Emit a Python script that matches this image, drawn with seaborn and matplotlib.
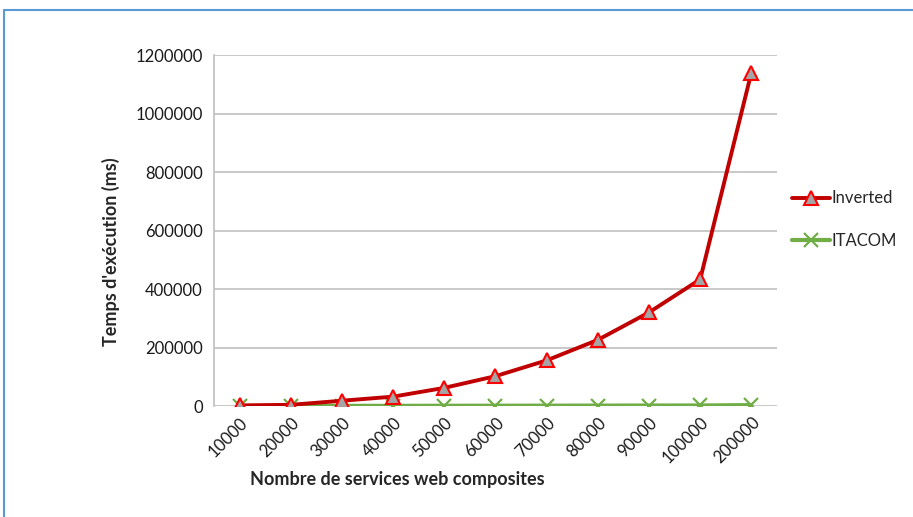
import numpy as np
import pandas as pd
import matplotlib
matplotlib.use('Agg')
import matplotlib.pyplot as plt
import seaborn as sns
from matplotlib.lines import Line2D

categories = ['10000', '20000', '30000', '40000', '50000', '60000',
              '70000', '80000', '90000', '100000', '200000']
inverted = [2000, 4000, 18000, 32000, 62000, 102000, 156000, 226000, 320000, 433000, 1140000]
itacom = [150, 300, 450, 600, 800, 1000, 1200, 1400, 1600, 1800, 3000]
y_ticks = [0, 200000, 400000, 600000, 800000, 1000000, 1200000]

df = pd.DataFrame({'n': categories * 2,
                   'val': inverted + itacom,
                   'serie': ['Inverted'] * 11 + ['ITACOM'] * 11})

sns.set_style('white')
plt.rcParams['font.family'] = ['Lato', 'DejaVu Sans']

fig = plt.figure(figsize=(9.13, 5.17), dpi=100)
ax = fig.add_axes([0.2344, 0.2147, 0.6166, 0.6789])

red = '#C00000'
green = '#70AD47'
sns.lineplot(data=df[df.serie == 'Inverted'], x='n', y='val', ax=ax, color=red, lw=2.8,
             marker='^', markersize=9.5, markerfacecolor='#A5A5A5', markeredgecolor='#FF0000',
             markeredgewidth=1.5, sort=False, zorder=3)
sns.lineplot(data=df[df.serie == 'ITACOM'], x='n', y='val', ax=ax, color=green, lw=3,
             marker='x', markersize=9.5, markeredgecolor=green, markeredgewidth=1.6,
             sort=False, zorder=2)

ax.set_xlim(-0.5, 10.5)
ax.set_ylim(0, 1200000)
ax.set_yticks(y_ticks)
ax.set_yticklabels([str(v) for v in y_ticks], fontsize=12, color='#1a1a1a')
ax.set_xticks(range(len(categories)))
ax.set_xticklabels(categories, rotation=45, ha='right', rotation_mode='anchor',
                   fontsize=12, color='#1a1a1a')
ax.tick_params(axis='x', length=0, pad=6)
ax.tick_params(axis='y', length=0, pad=8)
ax.grid(axis='y', color='#BFBFBF', lw=1.2)
ax.set_axisbelow(True)
for s in ['top', 'right', 'bottom']:
    ax.spines[s].set_visible(False)
ax.spines['left'].set_color('#BFBFBF')
ax.spines['left'].set_linewidth(1.2)

ax.set_xlabel('Nombre de services web composites', fontsize=13, fontweight='bold')
ax.xaxis.set_label_coords(0.325, -0.185)
ax.set_ylabel("Temps d'exécution (ms)", fontsize=13, fontweight='bold')
ax.yaxis.set_label_coords(-0.167, 0.44)

handles = [Line2D([], [], color=red, lw=2.8, marker='^', markersize=9.5,
                  markerfacecolor='#A5A5A5', markeredgecolor='#FF0000', markeredgewidth=1.5),
           Line2D([], [], color=green, lw=3, marker='x', markersize=9.5,
                  markeredgecolor=green, markeredgewidth=1.6)]
fig.legend(handles, ['Inverted', 'ITACOM'], loc='center left',
           bbox_to_anchor=(0.851, 0.575), frameon=False, fontsize=12,
           handlelength=2.3, handletextpad=0.1, labelspacing=1.6)

# chart frame (blue lines at top and left)
fig.add_artist(Line2D([0.0045, 1], [0.981, 0.981], color='#5B9BD5', lw=1.5))
fig.add_artist(Line2D([0.0045, 0.0045], [0, 0.981], color='#5B9BD5', lw=1.5))

fig.savefig('out.png', dpi=100)
